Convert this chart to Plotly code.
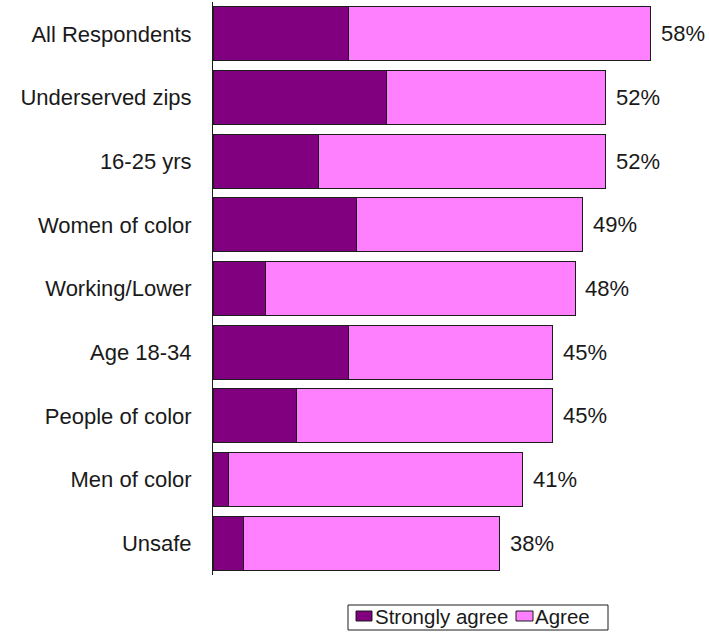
import plotly.graph_objects as go

# Survey groups, top to bottom
categories = [
    "All Respondents",
    "Underserved zips",
    "16-25 yrs",
    "Women of color",
    "Working/Lower",
    "Age 18-34",
    "People of color",
    "Men of color",
    "Unsafe",
]

# Share of respondents (percent)
strongly_agree = [18, 23, 14, 19, 7, 18, 11, 2, 4]
totals = [58, 52, 52, 49, 48, 45, 45, 41, 38]
agree = [t - s for t, s in zip(totals, strongly_agree)]

total_labels = [f"{t}%" for t in totals]
series_names = ["Strongly agree", "Agree"]
series_colors = ["#800080", "#FF80FF"]

FONT = "Liberation Sans, Arial, sans-serif"
TEXT_COLOR = "#1a1a1a"
OUTLINE = dict(color="#1c1c1c", width=1)

W, H = 709, 633
M = dict(l=213, r=0, t=2, b=58)
PW, PH = W - M["l"] - M["r"], H - M["t"] - M["b"]


def px_x(x):
    return (x - M["l"]) / PW


def px_y(y):
    return (H - M["b"] - y) / PH


fig = go.Figure()
for vals, name, color in zip([strongly_agree, agree], series_names, series_colors):
    fig.add_trace(go.Bar(
        y=categories, x=vals, orientation="h", name=name,
        marker=dict(color=color, line=OUTLINE),
        hoverinfo="skip", showlegend=False,
    ))

# Totals printed just past each bar end
for cat, tot, lab in zip(categories, totals, total_labels):
    fig.add_annotation(
        x=tot, y=cat, text=lab, showarrow=False,
        xanchor="left", xshift=8,
        font=dict(family=FONT, size=22, color=TEXT_COLOR),
    )

# Boxed legend below the bars
shapes = [dict(
    type="rect", xref="paper", yref="paper",
    x0=px_x(348), x1=px_x(608), y0=px_y(630), y1=px_y(605),
    line=dict(color="#1c1c1c", width=1), fillcolor="white",
)]
legend_x = [(356, 372, 373), (516, 533, 533)]
for (sx0, sx1, tx), name, color in zip(legend_x, series_names, series_colors):
    shapes.append(dict(
        type="rect", xref="paper", yref="paper",
        x0=px_x(sx0), x1=px_x(sx1), y0=px_y(621), y1=px_y(611),
        line=OUTLINE, fillcolor=color,
    ))
    fig.add_annotation(
        xref="paper", yref="paper", x=px_x(tx), y=px_y(616),
        text=name, showarrow=False, xanchor="left", yanchor="middle",
        font=dict(family=FONT, size=20.5, color=TEXT_COLOR),
    )

fig.update_layout(
    width=W, height=H, margin=M,
    barmode="stack", bargap=0.15,
    plot_bgcolor="white", paper_bgcolor="white",
    font=dict(family=FONT, size=22, color=TEXT_COLOR),
    showlegend=False, shapes=shapes,
)
fig.update_xaxes(range=[0, PW / 7.55], visible=False, showgrid=False)
fig.update_yaxes(
    autorange="reversed", showline=True, linecolor="#1c1c1c", linewidth=1,
    showgrid=False, ticks="", ticklabelstandoff=16,
    tickfont=dict(family=FONT, size=22, color=TEXT_COLOR),
)

fig.write_html("out.html")
